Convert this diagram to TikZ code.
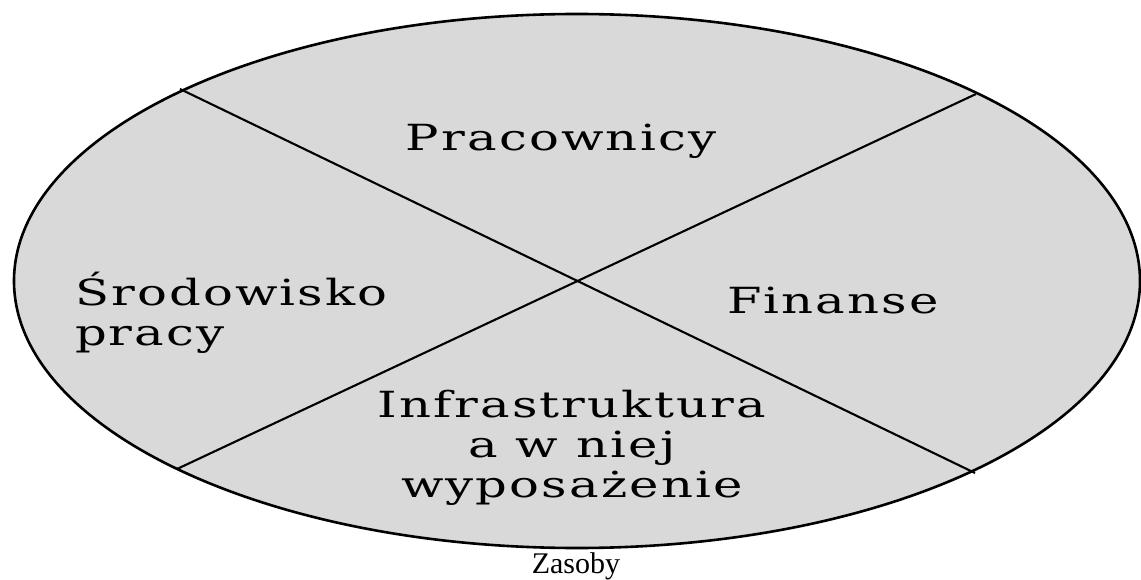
\documentclass[tikz,border=0pt]{standalone}
\usepackage{fontspec}
\setmainfont{DejaVu Serif}[FakeStretch=1.38, LetterSpace=6]
\newfontfamily\captionfont{Liberation Serif}
\usetikzlibrary{positioning}
\newcommand{\areacolor}{black!15}
\tikzstyle{every node}=[font=\fontsize{36}{40}\selectfont, inner sep=0, outer sep=0]

\begin{document}
\begin{tikzpicture}[x=1pt, y=-1pt]
\useasboundingbox (0,0) rectangle (1141,580);
\coordinate (o) at (577, 281);
\coordinate (a) at (180, 89);
\coordinate (b) at (975, 473);
\coordinate (c) at (177, 469);
\coordinate (d) at (976, 94);

\draw[line width=2.6pt, fill=\areacolor] (o) ellipse [x radius=563, y radius=267];

\foreach \i/\j in {a/b, c/d}
{
\draw[line width=2.1pt] (\i) -- (\j);
}

\node[anchor=base] (prac) at (561, 151) {Pracownicy};
\node[anchor=base] (fin) at (833, 313) {Finanse};
\node[anchor=base west, align=left] (srod) at (75, 345) {Środowisko\\pracy};
\node[anchor=base, align=center] (infra) at (572, 497) {Infrastruktura\\a w niej\\wyposażenie};
\node[anchor=base, font=\captionfont\fontsize{30}{32}\selectfont] (zas) at (576, 573) {Zasoby};
\end{tikzpicture}
\end{document}
